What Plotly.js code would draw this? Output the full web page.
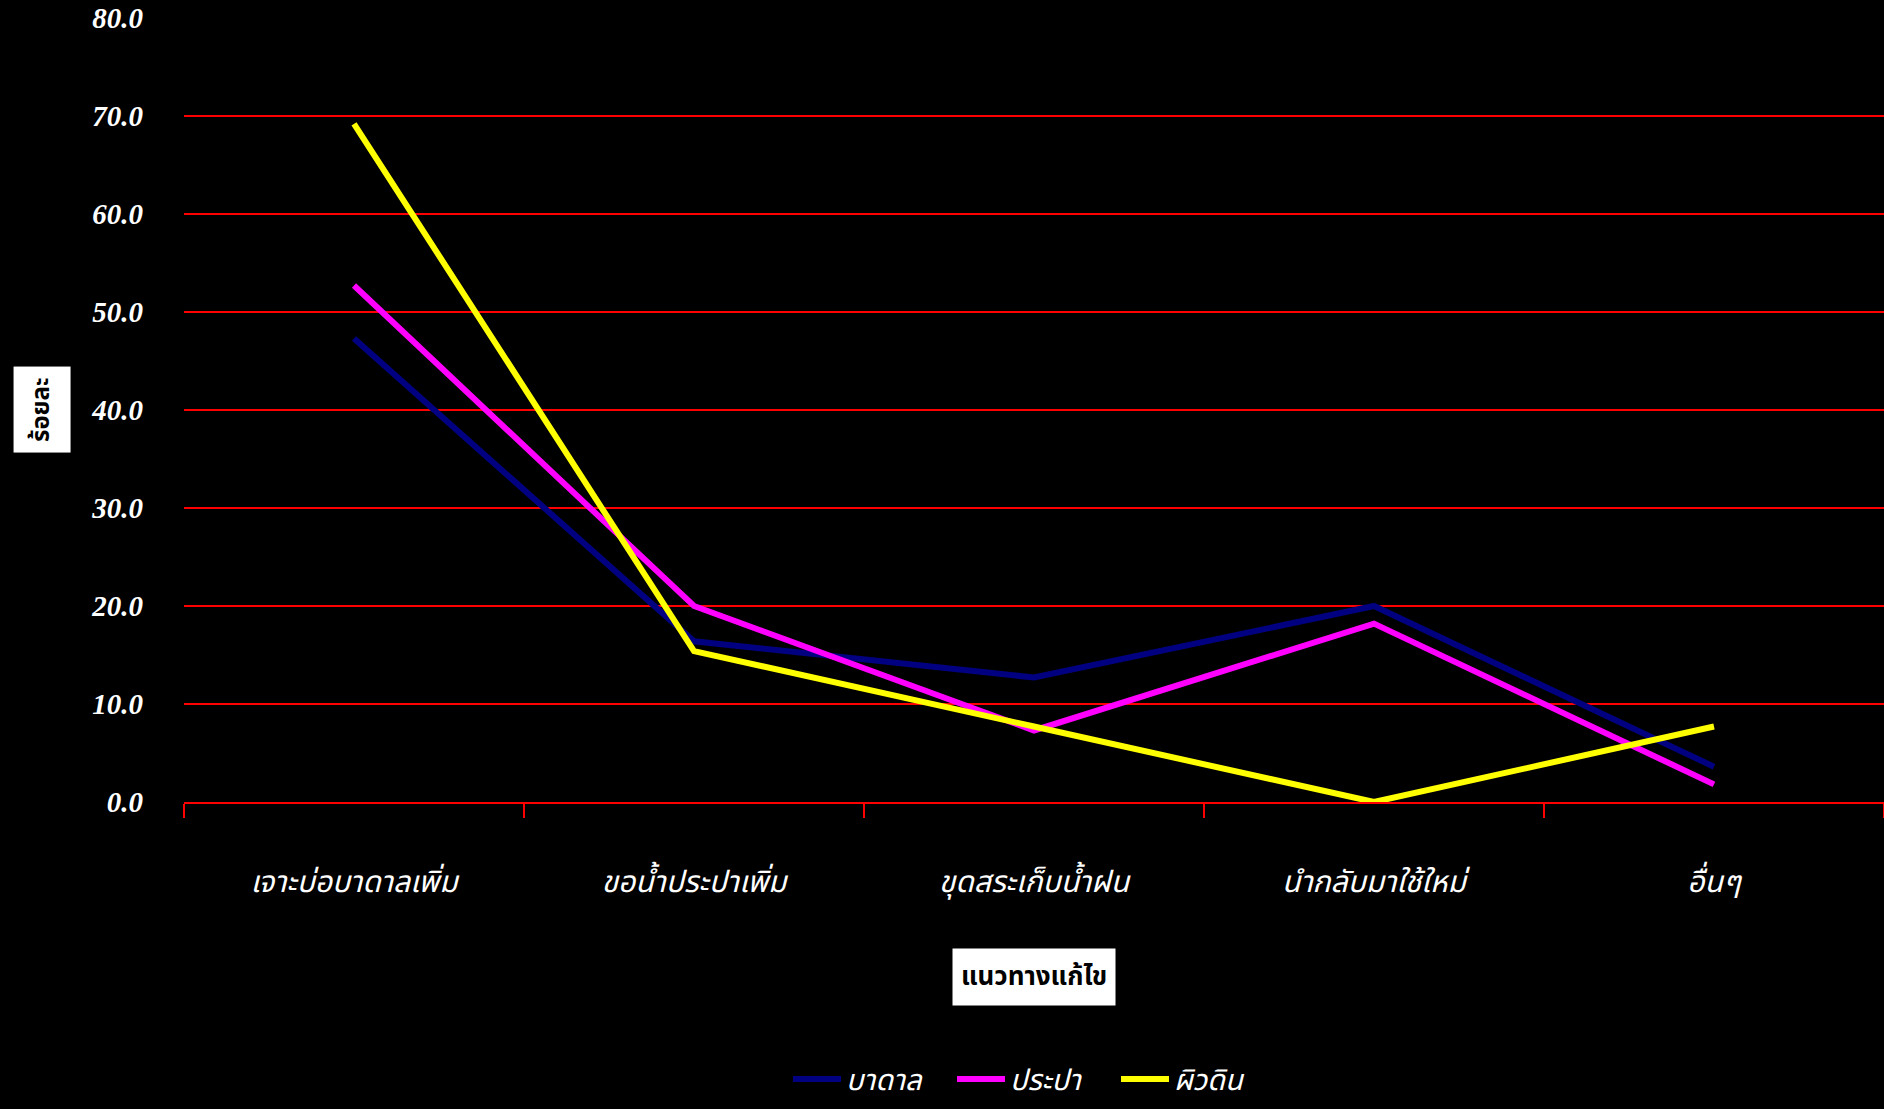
<!DOCTYPE html>
<html>
<head>
<meta charset="utf-8">
<script src="https://cdn.plot.ly/plotly-3.0.1.min.js"></script>
<style>
  html, body { margin: 0; padding: 0; background: #000; }
  #chart { width: 1884px; height: 1109px; }
</style>
</head>
<body>
<div id="chart"></div>
<script>
// Solutions by water source (percent)
const categories = ['เจาะบ่อบาดาลเพิ่ม', 'ขอน้ำประปาเพิ่ม', 'ขุดสระเก็บน้ำฝน', 'นำกลับมาใช้ใหม่', 'อื่นๆ'];
const seriesNames = ['บาดาล', 'ประปา', 'ผิวดิน'];
const groundwater = [47.3, 16.4, 12.7, 20.0, 3.6];
const tapwater = [52.7, 20.0, 7.3, 18.2, 1.8];
const surfacewater = [69.2, 15.4, 7.7, 0.0, 7.7];
const yTickValues = [0, 10, 20, 30, 40, 50, 60, 70, 80];
const xTitle = 'แนวทางแก้ไข';
const yTitle = 'ร้อยละ';

const thaiFont = '"Noto Sans Thai", "Noto Sans Thai Looped", Loma, Garuda, "Noto Sans", sans-serif';
const colors = ['#000080', '#FF00FF', '#FFFF00'];
const values = [groundwater, tapwater, surfacewater];

const traces = values.map((v, i) => ({
  type: 'scatter',
  mode: 'lines',
  x: categories,
  y: v,
  name: seriesNames[i],
  line: { color: colors[i], width: 6 },
  hoverinfo: 'x+y+name'
}));

const layout = {
  width: 1884,
  height: 1109,
  paper_bgcolor: '#000000',
  plot_bgcolor: '#000000',
  margin: { l: 184, r: 0, t: 17.5, b: 306.7 },
  showlegend: true,
  legend: {
    orientation: 'h',
    xref: 'paper', x: 0.5, xanchor: 'center',
    yref: 'container', y: 0.027, yanchor: 'middle',
    itemwidth: 48,
    entrywidth: 101,
    font: { family: thaiFont, size: 29, color: '#FFFFFF', style: 'italic' },
    bgcolor: 'rgba(0,0,0,0)'
  },
  xaxis: {
    type: 'category',
    range: [-0.5, 4.5],
    automargin: false,
    tickson: 'boundaries',
    ticks: 'outside',
    ticklen: 14,
    tickwidth: 2,
    tickcolor: '#FF0000',
    showgrid: false,
    showline: true,
    linecolor: '#FF0000',
    linewidth: 2,
    zeroline: false,
    ticklabelstandoff: 52,
    tickfont: { family: thaiFont, size: 30, color: '#FFFFFF', style: 'italic' }
  },
  yaxis: {
    range: [0, 80],
    automargin: false,
    tickvals: yTickValues,
    tickformat: '.1f',
    ticks: '',
    showgrid: true,
    gridcolor: '#FF0000',
    gridwidth: 2,
    zeroline: false,
    showline: false,
    ticklabelstandoff: 40,
    tickfont: { family: '"Liberation Serif", "Times New Roman", serif', size: 29, color: '#FFFFFF', weight: 'bold', style: 'italic' }
  },
  annotations: [
    {
      text: xTitle,
      xref: 'paper', yref: 'paper',
      x: 0.5, y: -0.2238,
      xanchor: 'center', yanchor: 'middle',
      showarrow: false,
      bgcolor: '#FFFFFF',
      borderpad: 8,
      font: { family: thaiFont, size: 26, color: '#000000', weight: 'bold' }
    },
    {
      text: yTitle,
      xref: 'paper', yref: 'paper',
      x: -0.0835, y: 0.5,
      xanchor: 'center', yanchor: 'middle',
      textangle: -90,
      showarrow: false,
      bgcolor: '#FFFFFF',
      borderpad: 10,
      font: { family: thaiFont, size: 24, color: '#000000', weight: 'bold' }
    }
  ]
};

Plotly.newPlot('chart', traces, layout, { displayModeBar: false, staticPlot: true });
</script>
</body>
</html>
